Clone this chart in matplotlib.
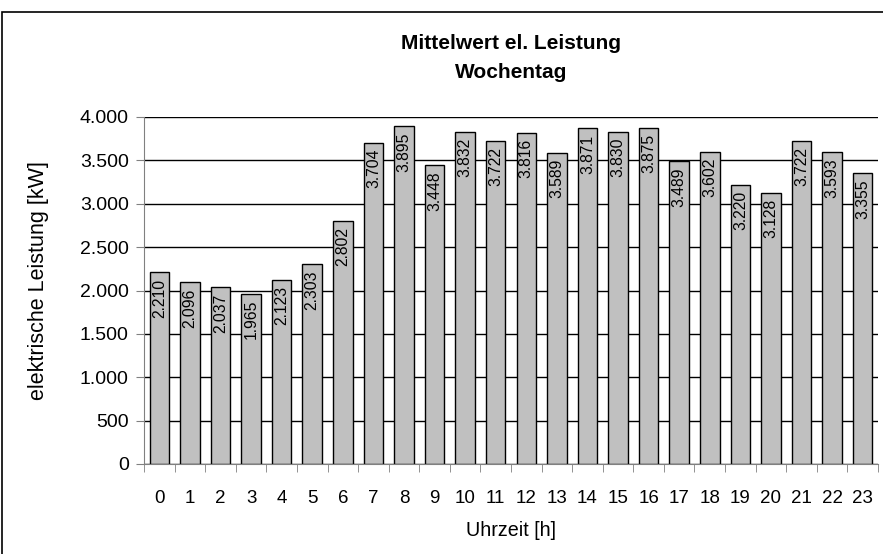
import matplotlib
matplotlib.use('Agg')
import matplotlib.pyplot as plt
from matplotlib.ticker import FuncFormatter, MultipleLocator
from matplotlib.patches import Rectangle

# Stundenwerte (Mittelwert el. Leistung, Wochentag)
stunden = list(range(24))
leistung = [2210, 2096, 2037, 1965, 2123, 2303, 2802, 3704, 3895, 3448, 3832, 3722,
            3816, 3589, 3871, 3830, 3875, 3489, 3602, 3220, 3128, 3722, 3593, 3355]

plt.rcParams['font.family'] = ['Liberation Sans', 'DejaVu Sans']


def tausender(v, pos=None):
    return f"{int(v):,}".replace(",", ".")


fig = plt.figure(figsize=(8.83, 5.54), dpi=100)
ax = fig.add_axes([144 / 883, 90 / 554, (878 - 144) / 883, (464 - 117) / 554])

ax.bar(stunden, leistung, width=0.64, color='#C0C0C0', edgecolor='black',
       linewidth=1.0, zorder=3)

for x, v in zip(stunden, leistung):
    ax.annotate(tausender(v), (x, v), xytext=(0, -4.5), textcoords='offset points',
                rotation=90, ha='center', va='top', fontsize=11.3, zorder=4)

ax.set_xlim(-0.5, 23.5)
ax.set_ylim(0, 4000)
ax.yaxis.set_major_locator(MultipleLocator(500))
ax.yaxis.set_major_formatter(FuncFormatter(tausender))
ax.grid(axis='y', color='black', linewidth=1.0, zorder=0)

ax.set_xticks(stunden)
ax.set_xticklabels([str(s) for s in stunden])
ax.set_xticks([s - 0.5 for s in stunden] + [23.5], minor=True)
ax.tick_params(axis='x', which='major', length=0, pad=19, labelsize=13.5)
ax.tick_params(axis='x', which='minor', length=6, color='#808080')
ax.tick_params(axis='y', length=6, color='#808080', labelsize=14, pad=5)

for side in ['top', 'right']:
    ax.spines[side].set_visible(False)
for side in ['left', 'bottom']:
    ax.spines[side].set_color('#808080')
    ax.spines[side].set_zorder(5)

ax.set_xlabel('Uhrzeit [h]', fontsize=14.2, labelpad=10)
fig.text(39 / 883, 1 - 281 / 554, 'elektrische Leistung [kW]', rotation=90,
         ha='center', va='center', fontsize=15.5)
fig.text(511 / 883, 1 - 58 / 554, 'Mittelwert el. Leistung\nWochentag',
         ha='center', va='center', fontsize=15, fontweight='bold', linespacing=1.7)

# Rahmen um das Diagramm
fig.patches.append(Rectangle((2 / 883, -0.1), 1.1, 1.1 - 12 / 554,
                             transform=fig.transFigure, fill=False,
                             edgecolor='black', linewidth=1.2))

fig.savefig('out.png', dpi=100)
plt.close(fig)
